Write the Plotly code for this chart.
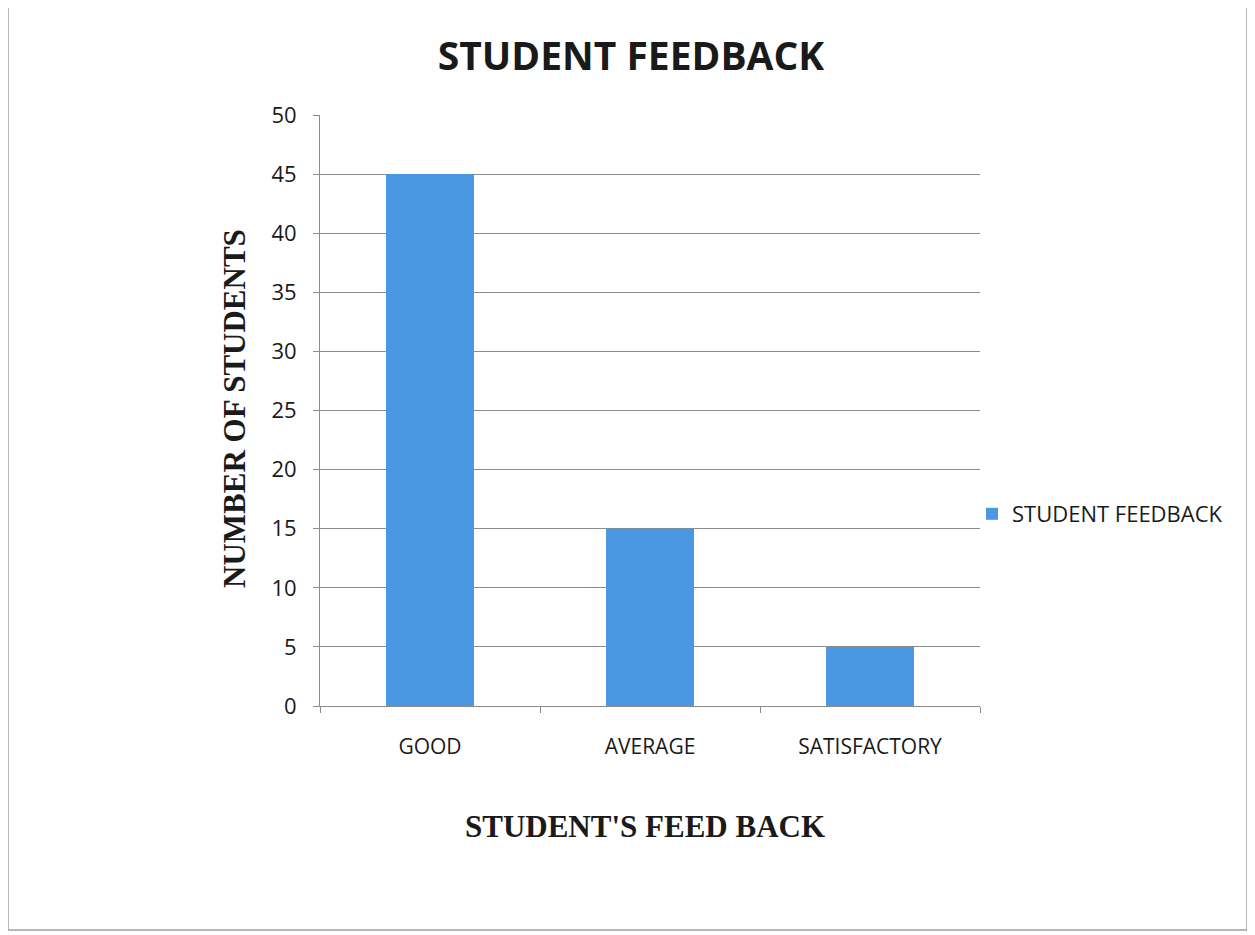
import plotly.graph_objects as go

categories = ["GOOD", "AVERAGE", "SATISFACTORY"]
values = [45, 15, 5]
series_name = "STUDENT FEEDBACK"
y_ticks = [0, 5, 10, 15, 20, 25, 30, 35, 40, 45, 50]

OFF = 8  # page body margin
W, H = 1255 - OFF, 935 - OFF
L, R, T, B = 320 - OFF, 980 - OFF, 115 - OFF, 706 - OFF
pw, ph = R - L, B - T

def px(x):
    return (x - OFF - L) / pw

def py(y):
    return (B - (y - OFF)) / ph

fig = go.Figure()
fig.add_trace(go.Bar(
    x=categories, y=values, name=series_name,
    marker=dict(color="#4a97e2", line=dict(width=0)),
    width=0.4, showlegend=True,
))

fig.update_layout(
    width=W, height=H,
    margin=dict(l=L, r=W - R, t=T, b=H - B, pad=0),
    paper_bgcolor="white", plot_bgcolor="white",
    font=dict(family="Open Sans, Liberation Sans, sans-serif", color="black", size=18),
    title=dict(text="<b>STUDENT FEEDBACK</b>", x=px(631), xref="paper", xanchor="center",
               y=1 - (56 - OFF) / H, yref="container", yanchor="middle",
               font=dict(size=39, family="Open Sans, sans-serif", color="#1a1a1a")),
    showlegend=True,
    legend=dict(x=px(972), y=py(514), xanchor="left", yanchor="middle",
                font=dict(size=22, color="#1a1a1a"), itemwidth=30, bgcolor="rgba(0,0,0,0)"),
    xaxis=dict(
        type="category", showgrid=False, showline=True, linecolor="#8a8a8a", linewidth=1,
        ticks="outside", tickson="boundaries", ticklen=6, tickcolor="#8a8a8a",
        tickfont=dict(size=21, color="#1a1a1a"), range=[-0.5, 2.5], zeroline=False,
        ticklabelstandoff=22,
    ),
    yaxis=dict(
        range=[0, 50], tickvals=y_ticks, showgrid=True, gridcolor="#8c8c8c", gridwidth=1.2,
        showline=True, linecolor="#8a8a8a", linewidth=1, ticks="outside", ticklen=6,
        tickcolor="#8a8a8a", tickfont=dict(size=22, color="#1a1a1a"), zeroline=False,
        ticklabelstandoff=12,
    ),
)

fig.add_annotation(text="<b>NUMBER OF STUDENTS</b>", textangle=-90,
                   x=px(234), y=py(409), xref="paper", yref="paper",
                   showarrow=False, xanchor="center", yanchor="middle",
                   font=dict(family="Liberation Serif, Times New Roman, serif", size=31, color="#1a1a1a"))
fig.add_annotation(text="<b>STUDENT'S FEED BACK</b>",
                   x=px(645), y=py(826), xref="paper", yref="paper",
                   showarrow=False, xanchor="center", yanchor="middle",
                   font=dict(family="Liberation Serif, Times New Roman, serif", size=31, color="#1a1a1a"))

fig.add_shape(type="rect", xref="paper", yref="paper",
              x0=px(8), x1=px(1247), y0=py(930), y1=py(5),
              line=dict(color="#a0a0a0", width=1.5), fillcolor="rgba(0,0,0,0)", layer="below")

fig.write_html("out.html")
